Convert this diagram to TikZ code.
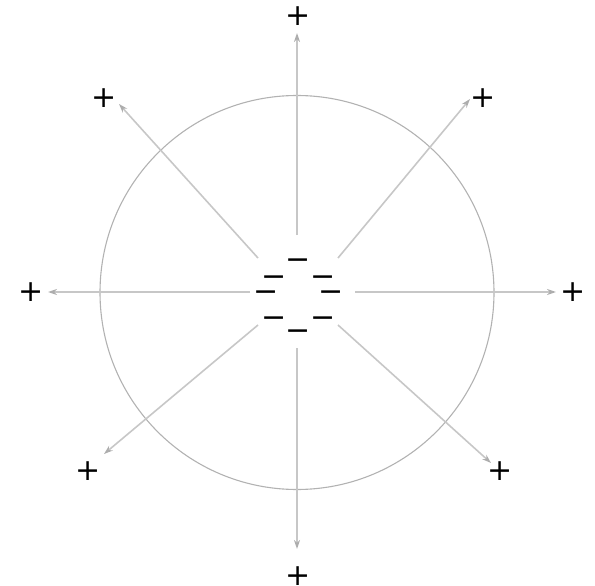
\documentclass[tikz,border=0pt]{standalone}
\usepackage{fontspec}
\newfontfamily\symfont{DejaVu Sans}
\usetikzlibrary{arrows.meta}
\begin{document}
\begin{tikzpicture}[x=1pt,y=-1pt,
  charge/.style={inner sep=0pt, anchor=base, yshift=-10pt, font=\symfont\fontsize{30}{30}\selectfont},
  field/.style={draw=black!22, line width=1.6pt, -{Stealth[length=9pt,width=6pt,color=black!32]}},
  ring/.style={draw=black!30, line width=1.1pt}]
\useasboundingbox (0,0) rectangle (595,586);
\node[ring, circle, minimum size=394pt, inner sep=0pt] (c) at (297,292.5) {};
% minus charges
\node[charge] (m1) at (298,259) {−};
\node[charge] (m2) at (274,276) {−};
\node[charge] (m3) at (323,276) {−};
\node[charge] (m4) at (266,291) {−};
\node[charge] (m5) at (331,291) {−};
\node[charge] (m6) at (274,317) {−};
\node[charge] (m7) at (323,317) {−};
\node[charge] (m8) at (298,330) {−};
% plus charges
\node[charge] (p1) at (298,16) {+};
\node[charge] (p2) at (483,97) {+};
\node[charge] (p3) at (573,291) {+};
\node[charge] (p4) at (500,470) {+};
\node[charge] (p5) at (298,575) {+};
\node[charge] (p6) at (88,470) {+};
\node[charge] (p7) at (31,291) {+};
\node[charge] (p8) at (104,97) {+};
% field line ends
\coordinate (s1) at (297,235); \coordinate (e1) at (297,33);
\coordinate (s2) at (338,258); \coordinate (e2) at (470,99);
\coordinate (s3) at (355,292); \coordinate (e3) at (556,292);
\coordinate (s4) at (338,325); \coordinate (e4) at (491,463);
\coordinate (s5) at (297,348); \coordinate (e5) at (297,549);
\coordinate (s6) at (258,325); \coordinate (e6) at (104,454);
\coordinate (s7) at (250,292); \coordinate (e7) at (48,292);
\coordinate (s8) at (258,258); \coordinate (e8) at (119,104);
\foreach \i in {1,...,8}{\draw[field] (s\i) -- (e\i);}
\end{tikzpicture}
\end{document}
